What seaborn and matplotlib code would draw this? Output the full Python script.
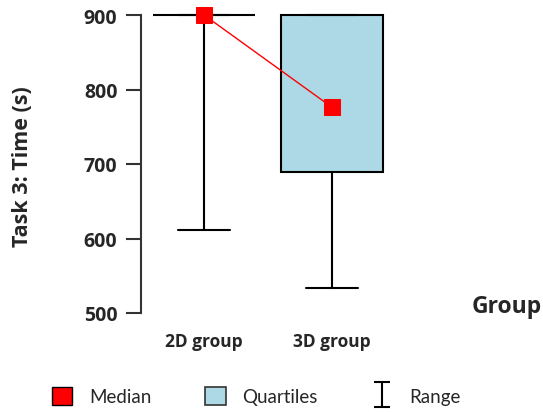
import numpy as np
import matplotlib
matplotlib.use("Agg")
import matplotlib.pyplot as plt
import seaborn as sns
from matplotlib.patches import Patch
from matplotlib.legend_handler import HandlerErrorbar

# summary stats
groups = ["2D group", "3D group"]
medians = [900, 776]
q1 = [900, 689]
q3 = [900, 900]
lows = [611, 534]
highs = [900, 900]

sns.set_style("white")
plt.rcParams["font.family"] = ["Open Sans", "DejaVu Sans"]

fig = plt.figure(figsize=(5.43, 4.14), dpi=100)
ax = fig.add_axes([141 / 543, 100 / 414, 300 / 543, 298 / 414])

stats = [dict(med=m, q1=a, q3=b, whislo=lo, whishi=hi, label=g)
         for g, m, a, b, lo, hi in zip(groups, medians, q1, q3, lows, highs)]
bp = ax.bxp(stats, positions=[0, 1], widths=0.8, capwidths=0.41,
            showfliers=False, patch_artist=True,
            boxprops=dict(facecolor="#add8e6", edgecolor="black", linewidth=1.5),
            whiskerprops=dict(color="black", linewidth=1.5),
            capprops=dict(color="black", linewidth=1.5),
            medianprops=dict(visible=False))
for k in ["boxes", "whiskers", "caps"]:
    for a in bp[k]:
        a.set_clip_on(False)

# medians joined by a red line
sns.pointplot(x=groups, y=medians, color="red", markers="s", markersize=11,
              linewidth=1, errorbar=None, ax=ax, zorder=5)
for ln in ax.lines:
    ln.set_clip_on(False)
for c in ax.collections:
    c.set_clip_on(False)

ax.set_ylim(500, 900)
ax.set_xlim(-0.492, 1.85)
ax.set_yticks([500, 600, 700, 800, 900])
ax.set_xticks([0, 1], groups)
for s in ["top", "right", "bottom"]:
    ax.spines[s].set_visible(False)
ax.spines["left"].set_color("#333333")
ax.spines["left"].set_linewidth(1.5)
ax.tick_params(axis="y", length=11, width=1.5, color="#333333", pad=6,
               labelsize=14, left=True)
ax.tick_params(axis="x", length=0, pad=14, labelsize=12.5)
for t in ax.get_xticklabels() + ax.get_yticklabels():
    t.set_fontweight("bold")
ax.set_xlabel("")
ax.set_ylabel("")

fig.text(23 / 543, 1 - 167 / 414, "Task 3: Time (s)", rotation=90,
         ha="center", va="center", fontsize=15.5, fontweight="bold")
fig.text(507 / 543, 1 - 307 / 414, "Group", ha="center", va="center",
         fontsize=16.5, fontweight="bold")

# legend
eb = ax.errorbar([np.nan], [np.nan], yerr=[1], fmt="none", ecolor="black",
                 capsize=6, elinewidth=1.5, capthick=1.5)
handles = [Patch(facecolor="red", edgecolor="black", linewidth=1),
           Patch(facecolor="#add8e6", edgecolor="#333333", linewidth=1.2),
           eb]
fig.legend(handles, ["Median", "Quartiles", "Range"], loc="center",
           bbox_to_anchor=(256 / 543, 1 - 397 / 414), ncol=3, frameon=False,
           prop={"family": "Lato", "size": 13.5}, handlelength=1.1,
           handleheight=1.1, handletextpad=0.9, columnspacing=2.85,
           handler_map={type(eb): HandlerErrorbar(yerr_size=0.65)})

fig.savefig("out.png", dpi=100)
